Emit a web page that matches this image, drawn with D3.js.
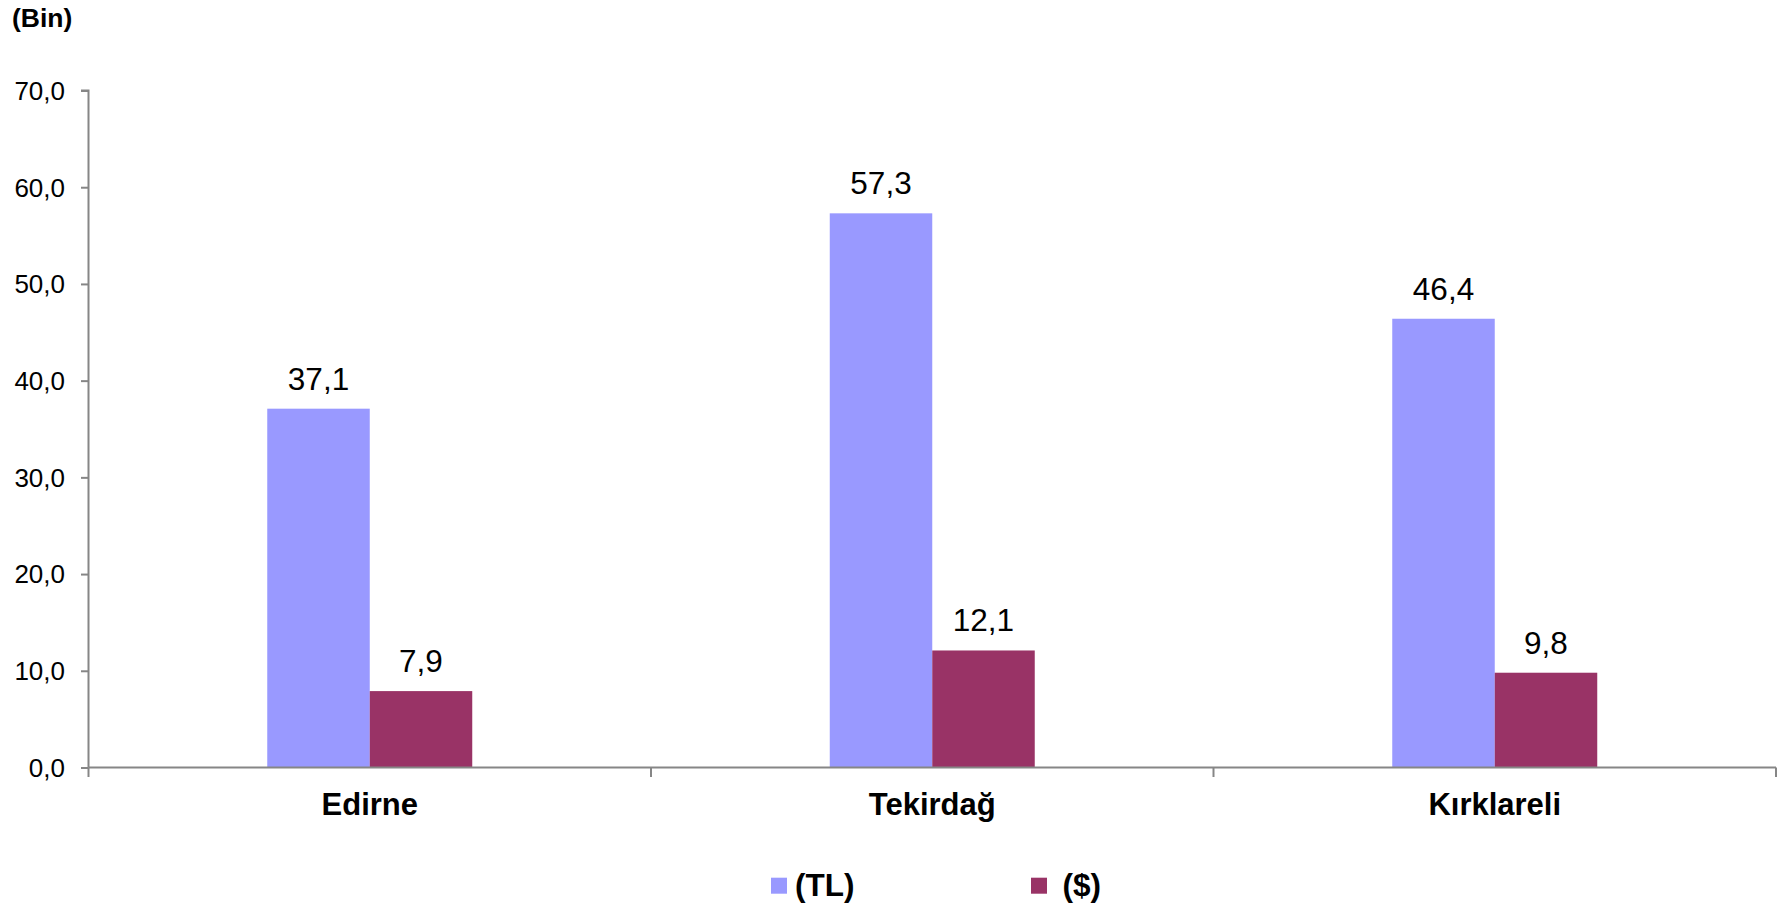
<!DOCTYPE html>
<html>
<head>
<meta charset="utf-8">
<script src="https://cdn.jsdelivr.net/npm/d3@7"></script>
<style>
  html, body { margin: 0; padding: 0; background: #fff; }
  svg { display: block; font-family: "Liberation Sans", Arial, sans-serif; }
</style>
</head>
<body>
<svg id="chart" width="1783" height="907"></svg>
<script>
const categories = ["Edirne", "Tekirdağ", "Kırklareli"];
const seriesNames = ["(TL)", "($)"];
const valuesTL = [37.1, 57.3, 46.4];
const valuesUSD = [7.9, 12.1, 9.8];
const yTicks = [0, 10, 20, 30, 40, 50, 60, 70];
const colors = ["#9999FF", "#993366"];

(function () {
const svg = d3.select("#chart");
const mLeft = 88.5, mRight = 1776, mTop = 90.5, mBottom = 767.5;
const axisColor = "#868686";

const x0 = d3.scaleBand().domain(categories).range([mLeft, mRight]).paddingInner(0).paddingOuter(0);
const x1 = d3.scaleBand().domain(seriesNames).range([0, x0.bandwidth()]).paddingInner(0).paddingOuter(1.744);
const y = d3.scaleLinear().domain([0, 70]).range([mBottom, mTop]);

const fmt = v => d3.format(".1f")(v).replace(".", ",");

// bars
const data = categories.map((c, i) => ({cat: c, vals: [valuesTL[i], valuesUSD[i]]}));
const groups = svg.append("g").selectAll("g").data(data).join("g")
  .attr("transform", d => `translate(${x0(d.cat)},0)`);
groups.selectAll("rect").data(d => d.vals.map((v, j) => ({name: seriesNames[j], v, j})))
  .join("rect")
  .attr("x", d => x1(d.name))
  .attr("width", x1.bandwidth())
  .attr("y", d => y(d.v))
  .attr("height", d => y(0) - y(d.v))
  .attr("fill", d => colors[d.j]);
groups.selectAll("text").data(d => d.vals.map((v, j) => ({name: seriesNames[j], v, j})))
  .join("text")
  .attr("x", d => x1(d.name) + x1.bandwidth() / 2)
  .attr("y", d => y(d.v) - 19)
  .attr("text-anchor", "middle")
  .attr("font-size", 31.5)
  .attr("fill", "#000")
  .text(d => fmt(d.v));

// y axis
const yAxis = d3.axisLeft(y).tickValues(yTicks).tickSize(7.5).tickPadding(16).tickFormat(fmt);
const gy = svg.append("g").attr("transform", `translate(${mLeft},0)`).call(yAxis);
gy.select(".domain").attr("stroke", axisColor).attr("stroke-width", 2).attr("d", `M-7.5,${mTop}H0V${mBottom}`);
gy.selectAll(".tick line").attr("stroke", axisColor).attr("stroke-width", 2);
gy.selectAll(".tick text").attr("font-size", 26).attr("fill", "#000")
  .attr("font-family", "'Liberation Sans', Arial, sans-serif").attr("dy", "0.34em");

// x axis
const boundaries = [mLeft, ...categories.slice(1).map(c => x0(c)), mRight];
const gx = svg.append("g");
gx.append("line").attr("x1", mLeft).attr("x2", mRight).attr("y1", mBottom).attr("y2", mBottom)
  .attr("stroke", axisColor).attr("stroke-width", 2);
gx.selectAll("line.bt").data(boundaries).join("line").attr("class", "bt")
  .attr("x1", d => d).attr("x2", d => d).attr("y1", mBottom).attr("y2", mBottom + 9.5)
  .attr("stroke", axisColor).attr("stroke-width", 2);
gx.selectAll("text").data(categories).join("text")
  .attr("x", d => x0(d) + x0.bandwidth() / 2)
  .attr("y", 815)
  .attr("text-anchor", "middle")
  .attr("font-size", 31)
  .attr("font-weight", "bold")
  .text(d => d);

// unit label
svg.append("text").attr("x", 12).attr("y", 27).attr("font-size", 26.5).attr("font-weight", "bold").text("(Bin)");

// legend
const legendX = [771, 1031];
const lg = svg.append("g").selectAll("g").data(seriesNames).join("g");
lg.append("rect").attr("x", (d, i) => legendX[i]).attr("y", 877.7).attr("width", 16).attr("height", 16)
  .attr("fill", (d, i) => colors[i]);
lg.append("text").attr("x", (d, i) => legendX[i] + 24 + i * 7.5).attr("y", 896)
  .attr("font-size", 31.5).attr("font-weight", "bold").text(d => d);
})();
</script>
</body>
</html>
